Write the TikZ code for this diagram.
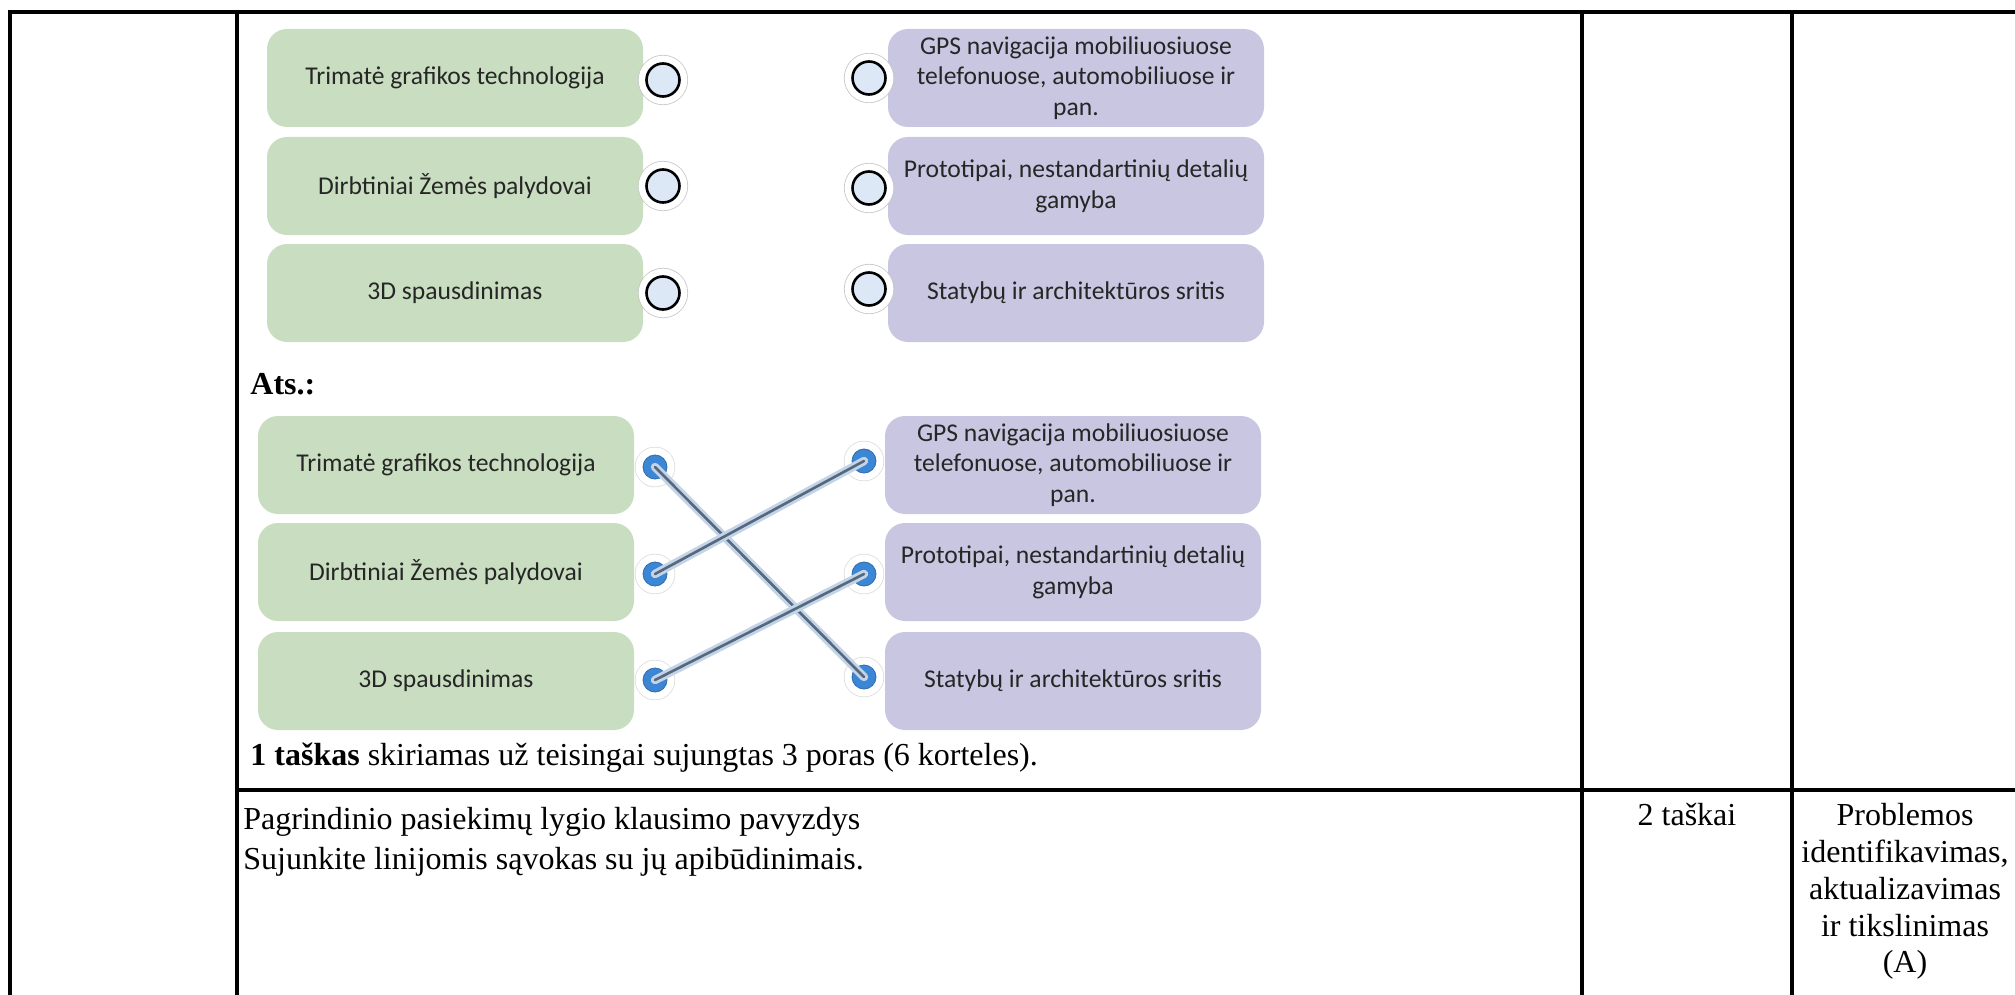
\documentclass[tikz,border=0pt]{standalone}
\usepackage{fontspec}
\setmainfont{Liberation Serif}
\newfontfamily\cardfont{Carlito}

\definecolor{cardgreen}{HTML}{C9DEC0}
\definecolor{cardviolet}{HTML}{C9C6E1}
\definecolor{holefill}{HTML}{DCE8F5}
\definecolor{dotblue}{HTML}{3C86D6}
\definecolor{linehalo}{HTML}{C4D4E7}
\definecolor{linecore}{HTML}{56687F}

\begin{document}
\begin{tikzpicture}[x=0.5pt, y=-0.5pt, line join=round,
  card/.style={rounded corners=10pt, minimum width=188pt, minimum height=49pt,
    inner sep=0pt, align=center, text=black!85,
    font=\cardfont\fontsize{12.8}{15.4}\selectfont},
  gcard/.style={card, fill=cardgreen},
  vcard/.style={card, fill=cardviolet},
  hole/.style={circle, minimum size=16.5pt, inner sep=0pt,
    fill=holefill, draw=black, line width=1.3pt,
    preaction={draw=black!22, line width=8.6pt},
    preaction={draw=white, line width=7.8pt}},
  dot/.style={circle, minimum size=12pt, inner sep=0pt, fill=dotblue,
    draw=dotblue!80!black, line width=0.4pt,
    preaction={draw=orange!15!black!15, line width=8.4pt},
    preaction={draw=white, line width=7.6pt}},
  pair/.style={draw=linecore, line width=1.3pt, line cap=round,
    preaction={draw=linehalo, line width=4.2pt, line cap=round}},
  txt/.style={inner sep=0pt, font=\fontsize{16}{18.4}\selectfont},
  grid/.style={line width=1.6pt}]

\useasboundingbox (0,0) rectangle (2015,995);

% lentelė
\draw[grid, line width=2pt] (8,12) -- (2015,12);
\draw[grid, line width=2pt] (10,12) -- (10,995);
\foreach \xx in {237,1582,1792}
  \draw[grid] (\xx,12) -- (\xx,995);
\draw[grid] (237,790) -- (2015,790);

% užduotis
\node[gcard] (tg) at (455,78) {Trimatė grafikos technologija};
\node[gcard] (zp) at (455,186) {Dirbtiniai Žemės palydovai};
\node[gcard] (sp) at (455,293) {3D spausdinimas};
\node[vcard] (gps) at (1076,78) {GPS navigacija mobiliuosiuose\\telefonuose, automobiliuose ir\\pan.};
\node[vcard] (prot) at (1076,186) {Prototipai, nestandartinių detalių\\gamyba};
\node[vcard] (stat) at (1076,293) {Statybų ir architektūros sritis};

\node[hole] (tg-o) at (663,80) {};
\node[hole] (zp-o) at (663,186) {};
\node[hole] (sp-o) at (663,293) {};
\node[hole] (gps-o) at (869,78) {};
\node[hole] (prot-o) at (869,188) {};
\node[hole] (stat-o) at (869,289) {};

\node[txt, anchor=west, font=\fontsize{16}{18.4}\selectfont\bfseries] (ats) at (250,384) {Ats.:};

% atsakymas
\node[gcard] (atg) at (446,465) {Trimatė grafikos technologija};
\node[gcard] (azp) at (446,572) {Dirbtiniai Žemės palydovai};
\node[gcard] (asp) at (446,681) {3D spausdinimas};
\node[vcard] (agps) at (1073,465) {GPS navigacija mobiliuosiuose\\telefonuose, automobiliuose ir\\pan.};
\node[vcard] (aprot) at (1073,572) {Prototipai, nestandartinių detalių\\gamyba};
\node[vcard] (astat) at (1073,681) {Statybų ir architektūros sritis};

\node[dot] (atg-o) at (655,467) {};
\node[dot] (azp-o) at (655,574) {};
\node[dot] (asp-o) at (655,680) {};
\node[dot] (agps-o) at (864,461) {};
\node[dot] (aprot-o) at (864,574) {};
\node[dot] (astat-o) at (864,677) {};

\draw[pair] (atg-o.center) -- (astat-o.center);
\draw[pair] (azp-o.center) -- (agps-o.center);
\draw[pair] (asp-o.center) -- (aprot-o.center);

\node[txt, anchor=west] (taskas) at (250,758) {\textbf{1 taškas} skiriamas už teisingai sujungtas 3 poras (6 korteles).};

% kitas klausimas
\node[txt, anchor=west] (lygis) at (243,822) {Pagrindinio pasiekimų lygio klausimo pavyzdys};
\node[txt, anchor=west] (sujunk) at (243,862) {Sujunkite linijomis sąvokas su jų apibūdinimais.};
\node[txt, anchor=north] (taskai) at (1687,803) {2 taškai};
\node[txt, anchor=north, align=center] (sritis) at (1905,803)
  {Problemos\\identifikavimas,\\aktualizavimas\\ir tikslinimas\\(A)};

\end{tikzpicture}
\end{document}
